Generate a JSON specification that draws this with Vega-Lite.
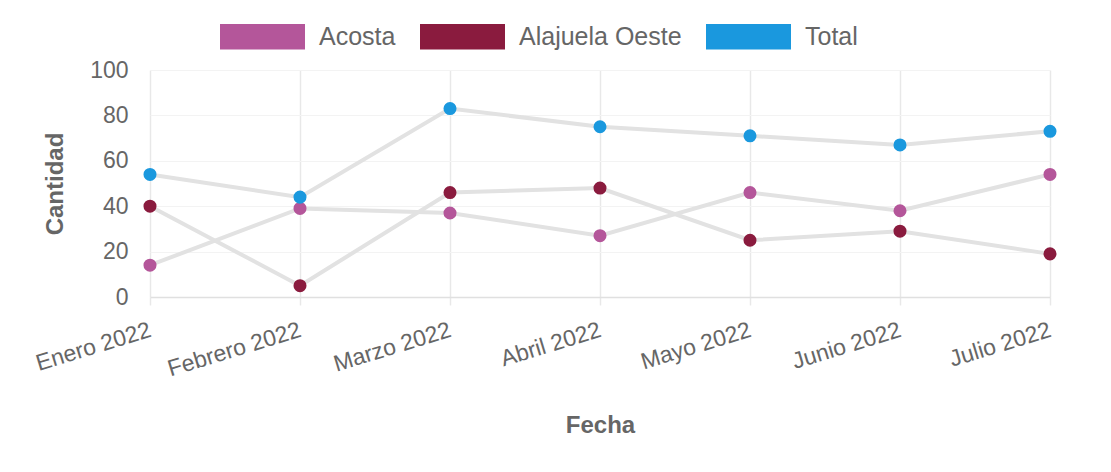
{
  "$schema": "https://vega.github.io/schema/vega-lite/v6.json",
  "width": 900,
  "height": 227,
  "autosize": "none",
  "padding": {"left": 150, "top": 70, "right": 61, "bottom": 175},
  "background": "white",
  "config": {
    "view": {"stroke": null},
    "font": "Liberation Sans"
  },
  "data": {
    "values": [
      {"Fecha": "Enero 2022", "serie": "Acosta", "Cantidad": 14},
      {"Fecha": "Febrero 2022", "serie": "Acosta", "Cantidad": 39},
      {"Fecha": "Marzo 2022", "serie": "Acosta", "Cantidad": 37},
      {"Fecha": "Abril 2022", "serie": "Acosta", "Cantidad": 27},
      {"Fecha": "Mayo 2022", "serie": "Acosta", "Cantidad": 46},
      {"Fecha": "Junio 2022", "serie": "Acosta", "Cantidad": 38},
      {"Fecha": "Julio 2022", "serie": "Acosta", "Cantidad": 54},
      {"Fecha": "Enero 2022", "serie": "Alajuela Oeste", "Cantidad": 40},
      {"Fecha": "Febrero 2022", "serie": "Alajuela Oeste", "Cantidad": 5},
      {"Fecha": "Marzo 2022", "serie": "Alajuela Oeste", "Cantidad": 46},
      {"Fecha": "Abril 2022", "serie": "Alajuela Oeste", "Cantidad": 48},
      {"Fecha": "Mayo 2022", "serie": "Alajuela Oeste", "Cantidad": 25},
      {"Fecha": "Junio 2022", "serie": "Alajuela Oeste", "Cantidad": 29},
      {"Fecha": "Julio 2022", "serie": "Alajuela Oeste", "Cantidad": 19},
      {"Fecha": "Enero 2022", "serie": "Total", "Cantidad": 54},
      {"Fecha": "Febrero 2022", "serie": "Total", "Cantidad": 44},
      {"Fecha": "Marzo 2022", "serie": "Total", "Cantidad": 83},
      {"Fecha": "Abril 2022", "serie": "Total", "Cantidad": 75},
      {"Fecha": "Mayo 2022", "serie": "Total", "Cantidad": 71},
      {"Fecha": "Junio 2022", "serie": "Total", "Cantidad": 67},
      {"Fecha": "Julio 2022", "serie": "Total", "Cantidad": 73}
    ]
  },
  "encoding": {
    "x": {
      "field": "Fecha",
      "type": "ordinal",
      "sort": null,
      "scale": {"type": "point", "padding": 0},
      "axis": {
        "title": "Fecha",
        "titleFont": "Liberation Sans",
        "titleFontSize": 24,
        "titleFontWeight": "bold",
        "titleColor": "#666666",
        "titlePadding": 33,
        "labelAngle": -17,
        "labelAlign": "right",
        "labelBaseline": "middle",
        "labelFontSize": 23,
        "labelColor": "#666666",
        "labelPadding": 24,
        "labelOverlap": false,
        "grid": true,
        "gridColor": "#e8e8e8",
        "gridWidth": 1.5,
        "domainColor": "#e0e0e0",
        "domainWidth": 1.5,
        "tickColor": "#e8e8e8",
        "tickSize": 8,
        "tickWidth": 1.5
      }
    },
    "y": {
      "field": "Cantidad",
      "type": "quantitative",
      "scale": {"domain": [0, 100], "nice": false},
      "axis": {
        "title": "Cantidad",
        "titleFont": "Liberation Sans",
        "titleFontSize": 24,
        "titleFontWeight": "bold",
        "titleColor": "#666666",
        "titlePadding": 22,
        "values": [0, 20, 40, 60, 80, 100],
        "labelFontSize": 23,
        "labelColor": "#666666",
        "labelPadding": 22,
        "ticks": false,
        "domain": false,
        "grid": true,
        "gridColor": "#f3f3f3",
        "gridWidth": 1
      }
    }
  },
  "layer": [
    {
      "mark": {"type": "line", "color": "#e2e2e2", "strokeWidth": 4},
      "encoding": {"detail": {"field": "serie"}}
    },
    {
      "mark": {"type": "point", "filled": true, "opacity": 1, "size": 170},
      "encoding": {
        "color": {
          "field": "serie",
          "type": "nominal",
          "scale": {
            "domain": ["Acosta", "Alajuela Oeste", "Total"],
            "range": ["#b4569a", "#8a1b3e", "#1a98de"]
          },
          "legend": {
            "title": null,
            "orient": "none",
            "direction": "horizontal",
            "legendX": 70,
            "legendY": -76,
            "symbolType": "M-1,-0.3H1V0.3H-1Z",
            "symbolSize": 7225,
            "symbolStrokeWidth": 0,
            "labelFontSize": 25,
            "labelLimit": 0,
            "labelColor": "#666666",
            "labelFont": "Liberation Sans",
            "labelOffset": 14,
            "columnPadding": 24
          }
        }
      }
    }
  ]
}
